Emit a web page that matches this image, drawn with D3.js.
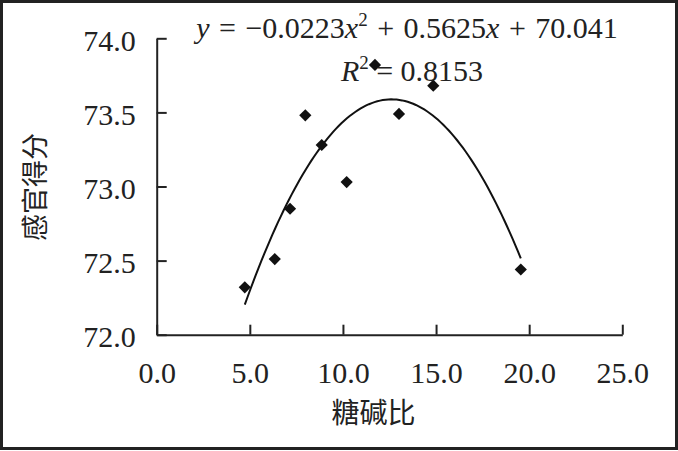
<!DOCTYPE html>
<html>
<head>
<meta charset="utf-8">
<script src="https://cdn.jsdelivr.net/npm/d3@7"></script>
<style>
  body { margin: 0; background: #fff; }
  svg text { fill: #222; }
</style>
</head>
<body>
<script>
// Ratio (x) and sensory score (y)
var ratio = [4.73, 6.34, 7.16, 7.98, 8.86, 10.20, 11.72, 13.01, 14.85, 19.55];
var score = [72.32, 72.51, 72.85, 73.48, 73.28, 73.03, 73.82, 73.49, 73.68, 72.44];
// Trend line coefficients: y = a x^2 + b x + c
var coef = [-0.0223, 0.5625, 70.041];
var xTicks = [0, 5, 10, 15, 20, 25];
var yTicks = [72.0, 72.5, 73.0, 73.5, 74.0];

var width = 678, height = 451;
var serif = "'Liberation Serif', 'Times New Roman', serif";
var cjk = "'Noto Sans CJK SC', sans-serif";

var svg = d3.select("body").append("svg")
    .attr("width", width)
    .attr("height", height);

// outer frame
svg.append("rect")
    .attr("x", 1.5).attr("y", 1.5)
    .attr("width", 675).attr("height", 447)
    .attr("fill", "none")
    .attr("stroke", "#222")
    .attr("stroke-width", 3);

// Scales
var xScale = d3.scaleLinear().domain([0, 25]).range([156.7, 622.3]);
var yScale = d3.scaleLinear().domain([72, 74]).range([334.7, 38.3]);

// Axes with inward ticks
var xAxis = d3.axisBottom(xScale)
    .tickValues(xTicks)
    .tickSizeInner(-10)
    .tickSizeOuter(0)
    .tickFormat(d3.format(".1f"));
var yAxis = d3.axisLeft(yScale)
    .tickValues(yTicks)
    .tickSizeInner(-10)
    .tickSizeOuter(0)
    .tickFormat(d3.format(".1f"));

var gx = svg.append("g")
    .attr("transform", "translate(0," + yScale(72) + ")")
    .call(xAxis);
gx.selectAll("text")
    .attr("y", 48.5).attr("dy", null)
    .style("font-family", serif).style("font-size", "30px");

var gy = svg.append("g")
    .attr("transform", "translate(" + xScale(0) + ",0)")
    .call(yAxis);
gy.selectAll("text")
    .attr("x", -21).attr("dy", "12px")
    .style("font-family", serif).style("font-size", "30px");

svg.selectAll(".domain, .tick line")
    .attr("stroke", "#222")
    .attr("stroke-width", 2);

// Axis titles
svg.append("text")
    .attr("x", 373.5).attr("y", 423)
    .attr("text-anchor", "middle")
    .style("font-family", cjk).style("font-size", "28px")
    .text("糖碱比");
svg.append("text")
    .attr("transform", "translate(45,187) rotate(-90)")
    .attr("text-anchor", "middle")
    .style("font-family", cjk).style("font-size", "27px")
    .text("感官得分");

// Trend line over the data range
var xMin = d3.min(ratio), xMax = d3.max(ratio);
var curvePts = d3.range(0, 101).map(function(i) {
  var x = xMin + (xMax - xMin) * i / 100;
  return [x, coef[0] * x * x + coef[1] * x + coef[2]];
});
var line = d3.line()
    .x(function(d) { return xScale(d[0]); })
    .y(function(d) { return yScale(d[1]); });
svg.append("path")
    .datum(curvePts)
    .attr("d", line)
    .attr("fill", "none")
    .attr("stroke", "#111")
    .attr("stroke-width", 2);

// Points
var points = ratio.map(function(r, i) { return {x: r, y: score[i]}; });
svg.selectAll(".pt")
    .data(points)
    .enter()
    .append("path")
    .attr("class", "pt")
    .attr("d", d3.symbol().type(d3.symbolDiamond2).size(95))
    .attr("transform", function(d) {
      return "translate(" + xScale(d.x) + "," + yScale(d.y) + ")";
    })
    .attr("fill", "#111");

// Equation text
var eq = svg.append("text")
    .attr("x", 407).attr("y", 38)
    .attr("text-anchor", "middle")
    .style("word-spacing", "2px")
    .style("font-family", serif).style("font-size", "30px");
eq.append("tspan").style("font-style", "italic").text("y");
eq.append("tspan").text(" = \u22120.0223");
eq.append("tspan").style("font-style", "italic").text("x");
eq.append("tspan").attr("dy", -12).style("font-size", "19px").text("2");
eq.append("tspan").attr("dy", 12).text("  + 0.5625");
eq.append("tspan").style("font-style", "italic").text("x");
eq.append("tspan").text(" + 70.041");

var r2 = svg.append("text")
    .attr("x", 412).attr("y", 81)
    .attr("text-anchor", "middle")
    .style("font-family", serif).style("font-size", "30px");
r2.append("tspan").style("font-style", "italic").text("R");
r2.append("tspan").attr("dy", -12).style("font-size", "19px").text("2");
r2.append("tspan").attr("dy", 12).text(" = 0.8153");
</script>
</body>
</html>
